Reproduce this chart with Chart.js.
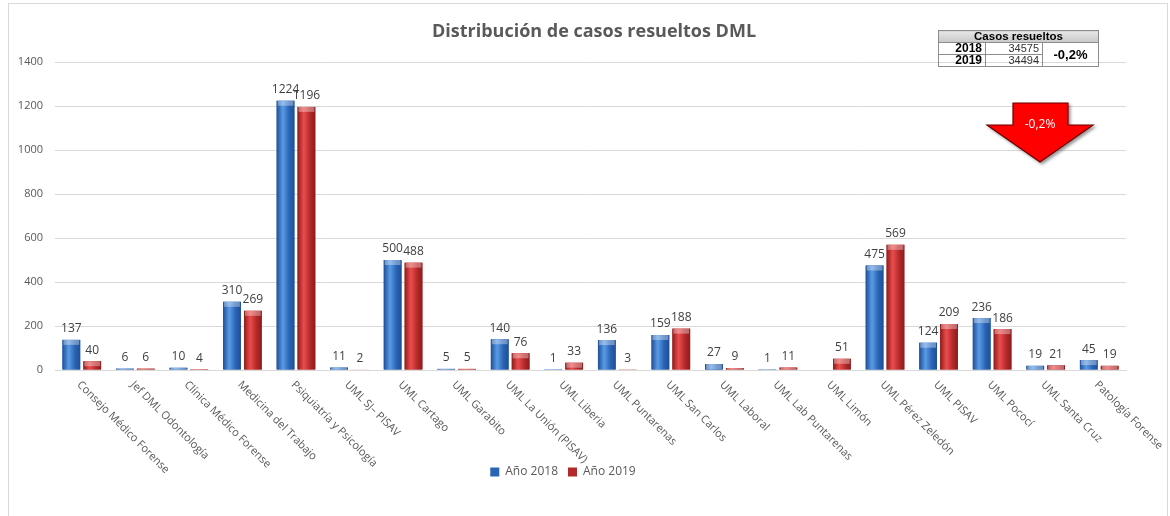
<!DOCTYPE html>
<html>
<head>
<meta charset="utf-8">
<script src="https://cdn.jsdelivr.net/npm/chart.js@4"></script>
<style>
  html, body { margin: 0; padding: 0; background: #fff; }
  #wrap { position: relative; width: 1170px; height: 516px; overflow: hidden; }
  #frame { position: absolute; left: 8px; top: 3px; width: 1160px; height: 530px; border: 1px solid #d9d9d9; box-sizing: border-box; }
  #myChart1 { position: absolute; left: 0; top: 0; }
  #tb1 { position: absolute; left: 938px; top: 30px; border-collapse: collapse; font-family: "Liberation Sans", Arial, sans-serif; font-size: 11px; color: #000; }
  #tb1 td, #tb1 th { border: 1px solid #8c8c8c; padding: 0 3px; height: 11px; line-height: 11px; }
  #tb1 th { background: linear-gradient(#e6e6e6, #c8c8c8); font-weight: bold; font-size: 11.5px; }
  #tb1 .yr { width: 40px; text-align: right; font-weight: bold; font-size: 12px; }
  #tb1 .val { width: 50px; text-align: right; color: #333; }
  #tb1 .pct { width: 49px; text-align: center; font-weight: bold; font-size: 13px; }
  #arrow { position: absolute; left: 0; top: 0; }
</style>
</head>
<body>
<div id="wrap">
  <div id="frame"></div>
  <canvas id="myChart1" width="1170" height="516"></canvas>
  <table id="tb1">
    <tr><th colspan="3">Casos resueltos</th></tr>
    <tr><td class="yr">2018</td><td class="val">34575</td><td class="pct" rowspan="2">-0,2%</td></tr>
    <tr><td class="yr">2019</td><td class="val">34494</td></tr>
  </table>
  <svg id="arrow" width="1170" height="516">
    <defs>
      <filter id="sh" x="-20%" y="-20%" width="150%" height="150%">
        <feDropShadow dx="2" dy="2" stdDeviation="1.5" flood-color="#000" flood-opacity="0.4"/>
      </filter>
    </defs>
    <polygon points="1013,103 1068,103 1068,125 1093,125 1040,162 987,125 1013,125"
             fill="#ff0000" stroke="#6a0000" stroke-width="1.2" filter="url(#sh)"/>
    <text x="1040" y="128" text-anchor="middle" fill="#fff" font-family="Open Sans, sans-serif" font-size="12">-0,2%</text>
  </svg>
</div>
<script>
(() => {
    'use strict'

    const categories = ['Consejo Médico Forense', 'Jef DML Odontología', 'Clínica Médico Forense',
        'Medicina del Trabajo', 'Psiquiatría y Psicología', 'UML SJ– PISAV', 'UML Cartago',
        'UML Garabito', 'UML La Unión (PISAV)', 'UML Liberia', 'UML Puntarenas', 'UML San Carlos',
        'UML Laboral', 'UML Lab Puntarenas', 'UML Limón', 'UML Pérez Zeledón', 'UML PISAV',
        'UML Pococí', 'UML Santa Cruz', 'Patología Forense']
    const anio2018 = [137, 6, 10, 310, 1224, 11, 500, 5, 140, 1, 136, 159, 27, 1, null, 475, 124, 236, 19, 45]
    const anio2019 = [40, 6, 4, 269, 1196, 2, 488, 5, 76, 33, 3, 188, 9, 11, 51, 569, 209, 186, 21, 19]
    const seriesNames = ['Año 2018', 'Año 2019']
    const titulo = 'Distribución de casos resueltos DML'

    const FONT = '"Open Sans", "Liberation Sans", sans-serif'

    // shading so the bars look like the excel cylinders
    const shade = {
        id: 'shade',
        afterDatasetsDraw(chart) {
            const c = chart.ctx
            const tones = [['#1d4f96', '#5a9be6', '#2a64b4'], ['#8e1b1b', '#ec4d4d', '#b42a2a']]
            chart.data.datasets.forEach((ds, di) => {
                const meta = chart.getDatasetMeta(di)
                meta.data.forEach((bar, i) => {
                    if (ds.data[i] == null) return
                    const p = bar.getProps(['x', 'y', 'base', 'width'], true)
                    const l = p.x - p.width / 2, r = p.x + p.width / 2
                    const g = c.createLinearGradient(l, 0, r, 0)
                    g.addColorStop(0, tones[di][0])
                    g.addColorStop(0.35, tones[di][1])
                    g.addColorStop(0.7, tones[di][2])
                    g.addColorStop(1, tones[di][0])
                    c.save()
                    c.fillStyle = g
                    c.fillRect(l, p.y, p.width, p.base - p.y)
                    const h = Math.min(5, p.base - p.y)
                    c.fillStyle = 'rgba(255,255,255,0.35)'
                    c.fillRect(l + 1, p.y, p.width - 2, h)
                    c.restore()
                })
            })
        }
    }

    // title, value labels above bars + slanted category names
    const labels = {
        id: 'labels',
        afterDraw(chart) {
            const c = chart.ctx
            c.save()
            c.font = 'bold 18px ' + FONT
            c.fillStyle = '#595959'
            c.textAlign = 'center'
            c.textBaseline = 'middle'
            c.fillText(titulo, 594, 32)

            c.font = '12px ' + FONT
            c.fillStyle = '#404040'
            c.textBaseline = 'bottom'
            chart.data.datasets.forEach((ds, di) => {
                chart.getDatasetMeta(di).data.forEach((bar, i) => {
                    if (ds.data[i] == null) return
                    c.fillText(ds.data[i], bar.x, bar.y - 5)
                })
            })
            const xs = chart.scales.x
            c.font = '11px ' + FONT
            c.fillStyle = '#595959'
            c.textAlign = 'left'
            c.textBaseline = 'middle'
            categories.forEach((name, i) => {
                const x = xs.getPixelForTick(i)
                c.save()
                c.translate(x - 3, xs.top + 13)
                c.rotate(Math.PI / 4)
                c.fillText(name, 0, 0)
                c.restore()
            })
            c.restore()
        }
    }

    const ctx = document.getElementById('myChart1')
    const myChart = new Chart(ctx, {
        type: 'bar',
        data: {
            labels: categories,
            datasets: [{
                label: seriesNames[0],
                data: anio2018,
                backgroundColor: '#2a64b4'
            }, {
                label: seriesNames[1],
                data: anio2019,
                backgroundColor: '#b42a2a'
            }]
        },
        options: {
            responsive: false,
            animation: false,
            layout: { padding: { left: 0, right: 44, top: 62, bottom: 28 } },
            datasets: { bar: { categoryPercentage: 0.78, barPercentage: 0.85 } },
            scales: {
                x: {
                    grid: { display: false, drawTicks: false },
                    border: { color: '#d9d9d9' },
                    ticks: { display: false },
                    afterFit: (s) => { s.height = 86 }
                },
                y: {
                    min: 0,
                    max: 1400,
                    ticks: {
                        stepSize: 200,
                        padding: 12,
                        color: '#595959',
                        font: { size: 11, family: FONT },
                        callback: (v) => String(v)
                    },
                    grid: { color: '#d9d9d9', drawTicks: false },
                    border: { display: false },
                    afterFit: (s) => { s.width = 55 }
                }
            },
            plugins: {
                legend: {
                    position: 'bottom',
                    labels: {
                        boxWidth: 9,
                        boxHeight: 9,
                        color: '#595959',
                        font: { size: 12, family: FONT }
                    }
                },
                tooltip: { enabled: false }
            }
        },
        plugins: [shade, labels]
    })
})()
</script>
</body>
</html>
